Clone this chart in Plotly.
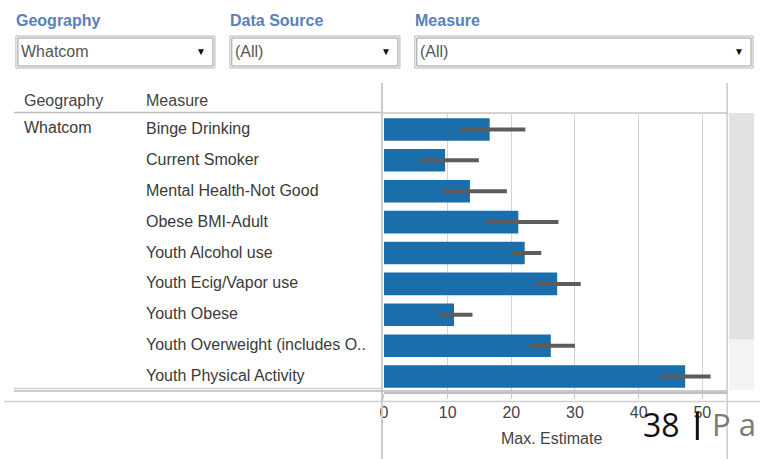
import plotly.graph_objects as go

# ---- data ----
measures = ["Binge Drinking", "Current Smoker", "Mental Health-Not Good", "Obese BMI-Adult",
            "Youth Alcohol use", "Youth Ecig/Vapor use", "Youth Obese",
            "Youth Overweight (includes O..", "Youth Physical Activity"]
max_estimate = [16.6, 9.6, 13.5, 21.1, 22.1, 27.2, 11.0, 26.2, 47.3]
ci_lower = [12.0, 5.8, 9.2, 16.0, 19.9, 24.0, 8.6, 22.9, 43.4]
ci_upper = [22.2, 14.9, 19.3, 27.4, 24.7, 30.9, 13.9, 30.0, 51.3]
x_ticks = [0, 10, 20, 30, 40, 50]
geography = "Whatcom"
filter_labels = ["Geography", "Data Source", "Measure"]
filter_values = ["Whatcom", "(All)", "(All)"]

W, H = 760, 459
FONT = "Liberation Sans, Arial, sans-serif"
PAD = 2  # annotation inner padding compensation


def px(x):
    return x / W


def py(y):
    return 1 - y / H


plus = [u - v for u, v in zip(ci_upper, max_estimate)]
minus = [v - l for v, l in zip(max_estimate, ci_lower)]

fig = go.Figure()
fig.add_trace(go.Bar(
    x=max_estimate, y=measures, orientation="h",
    marker=dict(color="#1a6eab", line=dict(width=0)),
    width=0.73,
    error_x=dict(type="data", array=plus, arrayminus=minus, symmetric=False,
                 color="#5c5c5c", thickness=4, width=0),
    hoverinfo="x+y", showlegend=False,
))

shapes = []
annotations = []


def line(x0, y0, x1, y1, color="#c8c8c8", width=1.5):
    shapes.append(dict(type="line", xref="paper", yref="paper",
                       x0=px(x0), y0=py(y0), x1=px(x1), y1=py(y1),
                       line=dict(color=color, width=width), layer="above"))


def rect(x0, y0, x1, y1, fill=None, color=None, width=1, layer="below"):
    shapes.append(dict(type="rect", xref="paper", yref="paper",
                       x0=px(x0), y0=py(y0), x1=px(x1), y1=py(y1),
                       fillcolor=fill if fill else "rgba(0,0,0,0)",
                       line=dict(color=color if color else "rgba(0,0,0,0)", width=width),
                       layer=layer))


def text(x, y, s, size=16, color="#3a3a3a", anchor="left", bold=False, family=FONT, yanchor="middle"):
    if anchor == "left":
        x = x - PAD
    annotations.append(dict(xref="paper", yref="paper", x=px(x), y=py(y),
                            text=("<b>%s</b>" % s) if bold else s,
                            showarrow=False, xanchor=anchor, yanchor=yanchor,
                            font=dict(size=size, color=color, family=family)))


# ---- filter controls ----
boxes = [(12, 212), (227, 398), (413, 753)]
for (bx0, bx1), lab, val in zip(boxes, filter_labels, filter_values):
    text(bx0, 20, lab, size=16, color="#5a80ba", bold=True)
    rect(bx0, 36, bx1, 68, color="#b5b5b5", width=1)
    rect(bx0 + 2, 38, bx1 - 2, 66, color="#9a9a9a", width=1)
    text(bx0 + 5, 52, val, size=16, color="#555555")
    text(bx1 - 14, 52, "▼", size=10, color="#111111", anchor="center")

# ---- table header ----
text(20, 101, "Geography", size=16, color="#444444")
text(143, 101, "Measure", size=16, color="#444444")
line(10, 112.5, 380, 112.5, color="#bdbdbd", width=1.5)

# geography label, row labels
annotations.append(dict(xref="paper", yref="y", x=px(20 - PAD), y=measures[0], yshift=2,
                        text=geography, showarrow=False, xanchor="left", yanchor="middle",
                        font=dict(size=16, color="#3a3a3a", family=FONT)))
for m in measures:
    annotations.append(dict(xref="paper", yref="y", x=px(143 - PAD), y=m, yshift=1,
                            text=m, showarrow=False, xanchor="left", yanchor="middle",
                            font=dict(size=16, color="#3a3a3a", family=FONT)))

# ---- frame lines ----
line(380, 83, 380, 459, color="#cbcbcb", width=2)
line(727, 83, 727, 459, color="#cbcbcb", width=1.5)
line(380, 113, 727, 113, color="#c4c4c4", width=1.5)
line(10, 388.5, 380, 388.5, color="#d2d2d2", width=1.5)
line(10, 391, 727, 391, color="#b8b8b8", width=1.5)
line(0, 401.5, 760, 401.5, color="#d0d0d0", width=1.5)

# scrollbar
rect(729, 113, 754, 339, fill="#e2e2e2")
rect(729, 339, 754, 390, fill="#f3f3f3")

# axis title
text(550, 438, "Max. Estimate", size=16, color="#444444", anchor="center")

# page footer overlay
text(642, 424, "38", size=32, color="#111111", family="Open Sans, sans-serif")
line(697, 412, 697, 440, color="#111111", width=3)
text(712, 424, "P a", size=31, color="#7a7a7a", family="Open Sans, sans-serif")

fig.update_layout(
    width=W, height=H, autosize=False,
    margin=dict(l=0, r=0, t=0, b=0, pad=0),
    paper_bgcolor="white", plot_bgcolor="white",
    bargap=0.27,
    xaxis=dict(domain=[px(382), px(727)], range=[0, 53.9], tickvals=x_ticks,
               showgrid=True, gridcolor="#d4d4d4", gridwidth=1, zeroline=False,
               ticks="outside", ticklen=5, tickcolor="#c8c8c8",
               tickfont=dict(size=16, color="#444444", family=FONT),
               showline=True, linecolor="#c0c0c0", linewidth=1.5, mirror=False,
               fixedrange=True),
    yaxis=dict(domain=[py(392), py(114)], type="category",
               categoryorder="array", categoryarray=measures,
               range=[8.5, -0.5], showticklabels=False, showgrid=False,
               zeroline=False, showline=False, fixedrange=True),
    shapes=shapes, annotations=annotations,
    font=dict(family=FONT),
)

fig.write_html("out.html", config={"displayModeBar": False},
               post_script="document.body.style.margin='0';")
